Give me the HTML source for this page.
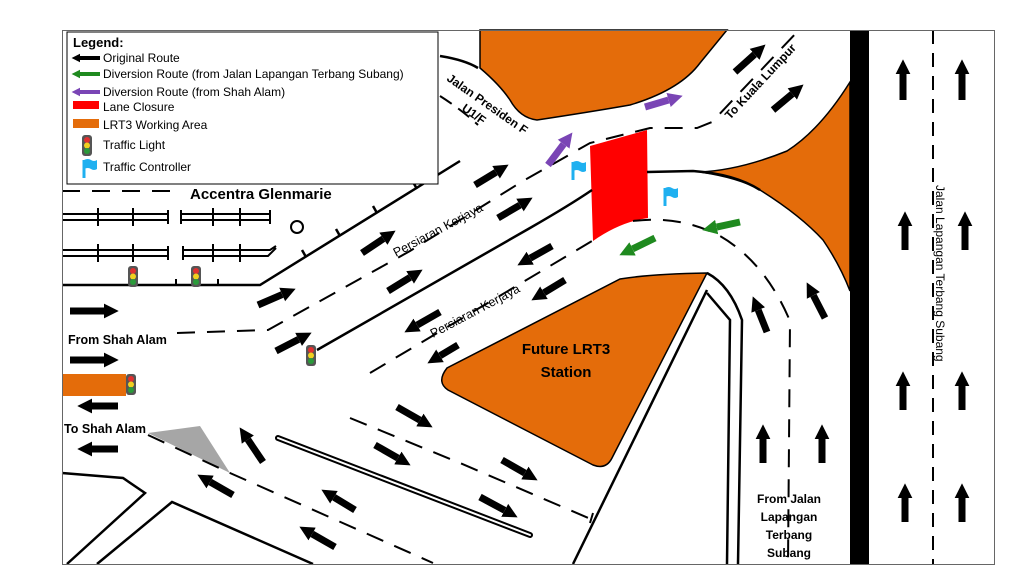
<!DOCTYPE html>
<html><head><meta charset="utf-8"><style>
html,body{margin:0;padding:0;background:#fff;width:1024px;height:576px;overflow:hidden}
svg{display:block}
text{font-family:"Liberation Sans",Arial,sans-serif}
</style></head><body>
<svg id="s" width="1024" height="576" viewBox="0 0 1024 576" xmlns="http://www.w3.org/2000/svg">
<defs>
<marker id="mk" viewBox="0 0 10 10" refX="0" refY="5" markerWidth="2.1" markerHeight="2.3" orient="auto"><path d="M0,0 L10,5 L0,10Z" fill="#000"/></marker>
<marker id="mg" viewBox="0 0 10 10" refX="0" refY="5" markerWidth="2.1" markerHeight="2.3" orient="auto"><path d="M0,0 L10,5 L0,10Z" fill="#1f8a1f"/></marker>
<marker id="mp" viewBox="0 0 10 10" refX="0" refY="5" markerWidth="2.1" markerHeight="2.3" orient="auto"><path d="M0,0 L10,5 L0,10Z" fill="#7a45b5"/></marker>
<g id="tl"><rect x="-5" y="-10" width="10" height="21" rx="3" fill="#555"/><circle cx="0" cy="-5" r="3" fill="#e03030"/><circle cx="0" cy="0.5" r="3" fill="#f0d020"/><circle cx="0" cy="6" r="3" fill="#2a9a3a"/></g>
<g id="fl"><path d="M-4,-8 L-4,10" stroke="#1fb0f0" stroke-width="3"/><path d="M-4,-8 Q0,-10 3,-8 Q6,-6 9,-8 L9,1 Q6,3 3,1 Q0,-1 -4,1Z" fill="#1fb0f0"/></g>
</defs>

<g fill="#e46c0a" stroke="#000" stroke-width="1.5">
<path d="M480,30 L480,68 Q500,85 510,100 Q520,118 537,120 Q590,112 630,105 Q680,90 700,63 L727,30Z"/>
<path d="M850,82 Q820,130 787,151 Q740,170 700,172 Q740,178 760,190 Q800,215 823,240 Q840,265 850,291Z"/>
<path d="M447,368 Q436,382 448,390 L593,465 Q606,470 612,458 L707,273 Q650,274 620,279 Q560,310 447,368Z"/>
</g>
<rect x="62" y="374" width="64" height="22" fill="#e46c0a"/>
<path d="M590,146 L647,130 L648,218 Q620,222 593,241Z" fill="#ff0000"/>
<path d="M148,433 L200,426 L230,473Z" fill="#a6a6a6"/>

<rect x="850" y="30" width="19" height="534" fill="#000"/>
<line x1="933" y1="30" x2="933" y2="564" stroke="#000" stroke-width="2" stroke-dasharray="14,9"/>

<g fill="none" stroke="#000" stroke-width="2.5">
<path d="M62,285 L260,285 L460,161"/>
<path d="M440,56 Q465,60 478,68"/>
<path d="M317,350 L530,228 Q570,205 592,190"/>
<path d="M647,172 L693,171 Q735,174 760,190"/>
<path d="M62,473 L123,478 L145,493 L67,564"/>
<path d="M97,564 L172,502 L313,564"/>
<path d="M707,290 L573,564"/>
<path d="M707,293 L730,320 L727,564"/>
<path d="M707,273 Q730,285 742,320 L738,564"/>
<line x1="593" y1="513" x2="590" y2="523" stroke-width="2"/>
</g>
<g stroke="#000" stroke-width="2.5">
<line x1="306" y1="257" x2="302" y2="250"/><line x1="340" y1="236" x2="336" y2="229"/><line x1="377" y1="213" x2="373" y2="206"/><line x1="417" y1="189" x2="413" y2="182"/>
</g>
<path d="M278,438 L530,535" stroke="#000" stroke-width="6" stroke-linecap="round"/>
<path d="M278,438 L530,535" stroke="#fff" stroke-width="2" stroke-linecap="round"/>

<g fill="none" stroke="#000" stroke-width="2">
<path d="M62,214 H168 M62,220 H168 M168,210 V224"/>
<path d="M181,210 V224 M181,214 H270 M181,220 H270 M270,210 V224"/>
<path d="M62,250 H168 M62,256 H168 M168,246 V260"/>
<path d="M183,246 V260 M183,250 H270 L276,246 M183,256 H268 L276,248"/>
<path d="M98,208 V226 M133,208 V226 M213,208 V226 M240,208 V226 M98,244 V262 M133,244 V262 M213,244 V262 M240,244 V262"/>
<path d="M176,279 V285 M218,279 V285"/>
</g>
<circle cx="297" cy="227" r="6" fill="none" stroke="#000" stroke-width="2"/>

<g fill="none" stroke="#000" stroke-width="2" stroke-dasharray="18,12">
<path d="M62,191 H178"/>
<path d="M177,333 L268,330 L410,251 L523,181 L590,143 L650,128 L697,128 L712,122 L798,31"/>
<path d="M370,373 L592,241"/>
<path d="M633,221 Q680,215 720,236 Q765,262 790,321 L788,564"/>
<path d="M148,435 L230,473 L433,563"/>
<path d="M350,418 L460,463 L593,520"/>
</g>
<path d="M440,96 Q462,110 478,125" fill="none" stroke="#000" stroke-width="2" stroke-dasharray="14,8"/>

<use href="#tl" x="133" y="276"/><use href="#tl" x="196" y="276"/><use href="#tl" x="311" y="355"/><use href="#tl" x="131" y="384"/>
<use href="#fl" x="577" y="170"/><use href="#fl" x="669" y="196"/>

<g id="arrows"></g>

<g font-weight="bold" fill="#000">
<text x="190" y="199" font-size="15">Accentra Glenmarie</text>
<text x="68" y="344" font-size="12.5">From Shah Alam</text>
<text x="64" y="433" font-size="12.5">To Shah Alam</text>
<text x="566" y="354" font-size="15" text-anchor="middle">Future LRT3</text>
<text x="566" y="377" font-size="15" text-anchor="middle">Station</text>
<g font-size="12" text-anchor="middle"><text x="789" y="503">From Jalan</text><text x="789" y="521">Lapangan</text><text x="789" y="539">Terbang</text><text x="789" y="557">Subang</text></g>
<text font-size="12" transform="translate(446,80) rotate(35)">Jalan Presiden F</text>
<text font-size="12" transform="translate(461,110) rotate(35)">U1/F</text>
<text font-size="12" transform="translate(730,120) rotate(-47)">To Kuala Lumpur</text>
</g>
<g font-size="12.5" fill="#000">
<text transform="translate(396,257) rotate(-28)">Persiaran Kerjaya</text>
<text transform="translate(433,338) rotate(-28)">Persiaran Kerjaya</text>
<text transform="translate(936,185) rotate(90)" font-size="12">Jalan Lapangan Terbang Subang</text>
</g>

<rect x="67" y="32" width="371" height="152" fill="#fff" stroke="#000" stroke-width="1"/>
<g font-size="12" fill="#000">
<text x="73" y="47" font-weight="bold" font-size="13">Legend:</text>
<text x="103" y="62">Original Route</text>
<text x="103" y="78">Diversion Route (from Jalan Lapangan Terbang Subang)</text>
<text x="103" y="96">Diversion Route (from Shah Alam)</text>
<text x="103" y="111">Lane Closure</text>
<text x="103" y="129">LRT3 Working Area</text>
<text x="103" y="149">Traffic Light</text>
<text x="103" y="171">Traffic Controller</text>
</g>
<line x1="100" y1="58" x2="80" y2="58" stroke="#000" stroke-width="4" marker-end="url(#mk)"/>
<line x1="100" y1="74" x2="80" y2="74" stroke="#1f8a1f" stroke-width="4" marker-end="url(#mg)"/>
<line x1="100" y1="92" x2="80" y2="92" stroke="#7a45b5" stroke-width="4" marker-end="url(#mp)"/>
<rect x="73" y="101" width="26" height="8" fill="#ff0000"/>
<rect x="73" y="119" width="26" height="9" fill="#e46c0a"/>
<use href="#tl" x="87" y="145"/>
<use href="#fl" x="88" y="168"/>

<rect x="62.5" y="30.5" width="932" height="534" fill="none" stroke="#666" stroke-width="1"/>

<script>
var A=[
['k',735,72,765,45],['k',773,110,803,85],
['p',645,107,682,96],['p',548,165,572,133],
['k',475,185,508,165],['k',498,218,532,198],['k',362,253,395,231],['k',388,291,422,270],['k',258,305,295,289],['k',276,351,311,333],
['k',70,311,118,311],['k',70,360,118,360],['k',118,406,78,406],['k',118,449,78,449],
['k',552,246,518,265],['k',565,280,532,300],['k',440,312,405,332],['k',458,345,428,363],
['g',740,222,703,230],['g',655,238,620,255],
['k',767,332,753,297],['k',825,318,807,283],
['k',763,463,763,425],['k',822,463,822,425],
['k',903,100,903,60],['k',962,100,962,60],['k',905,250,905,212],['k',965,250,965,212],['k',903,410,903,372],['k',962,410,962,372],['k',905,522,905,484],['k',962,522,962,484],
['k',397,407,432,427],['k',375,445,410,465],['k',502,460,537,480],['k',480,497,517,517],
['k',263,462,240,428],['k',233,495,198,475],['k',355,510,322,490],['k',335,547,300,527]
];
var g=document.getElementById('arrows'),ns='http://www.w3.org/2000/svg';
var col={k:'#000',g:'#1f8a1f',p:'#7a45b5'};
A.forEach(function(a){
 var x1=a[1],y1=a[2],x2=a[3],y2=a[4],dx=x2-x1,dy=y2-y1,L=Math.hypot(dx,dy);
 var h=14,ex=x2-dx/L*h,ey=y2-dy/L*h;
 var l=document.createElementNS(ns,'line');
 l.setAttribute('x1',x1);l.setAttribute('y1',y1);l.setAttribute('x2',ex);l.setAttribute('y2',ey);
 l.setAttribute('stroke',col[a[0]]);l.setAttribute('stroke-width',7);
 l.setAttribute('marker-end','url(#m'+a[0]+')');
 g.appendChild(l);
});
</script>
</svg>
</body></html>
